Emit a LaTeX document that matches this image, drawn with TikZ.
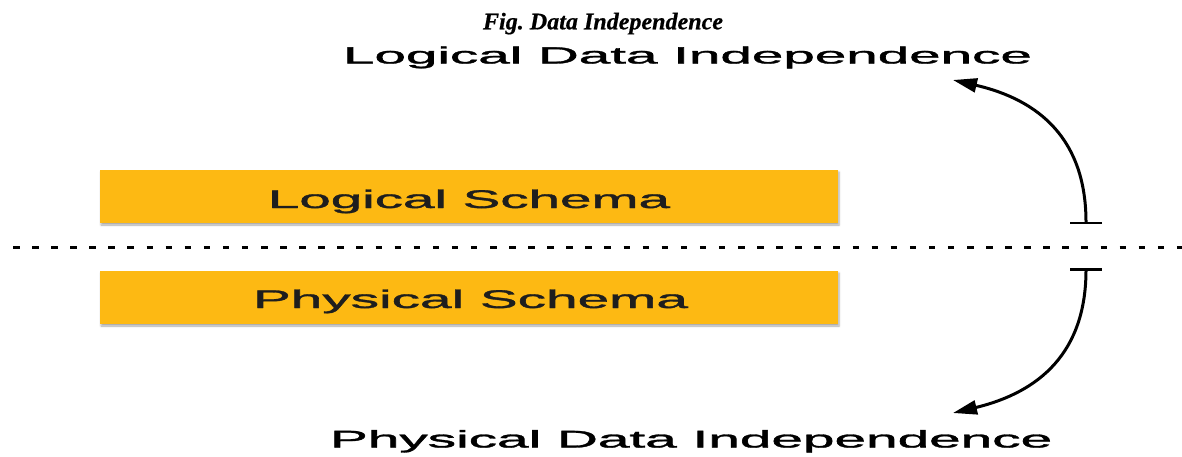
\documentclass[tikz,border=0pt]{standalone}
\usepackage{fontspec}
\setmainfont{Liberation Serif}
\setsansfont{Liberation Sans}
\frenchspacing
\usetikzlibrary{arrows.meta,shadows.blur}
\definecolor{schemafill}{RGB}{253,185,19}
\definecolor{schematext}{RGB}{30,30,30}
% stretched sans text: width, cap height, text
\newcommand{\stretchtext}[3]{\resizebox{#1}{#2}{\sffamily\addfontfeature{FakeBold=1.2} #3}}
\tikzset{
  schemabox/.style={fill=schemafill, draw=none, minimum width=738pt, minimum height=53pt,
    inner sep=0pt, blur shadow={shadow xshift=1pt, shadow yshift=-2pt, shadow blur radius=2pt, shadow opacity=35}},
  plain/.style={inner sep=0pt, outer sep=0pt},
  divider/.style={line width=3pt, dash pattern=on 6.5pt off 12.58pt},
  indep/.style={line width=3pt, {Bar[width=32pt,line width=2.5pt]}-{Triangle[length=24pt,width=14pt]}}
}
\begin{document}
\begin{tikzpicture}[x=1pt,y=-1pt]
\useasboundingbox (0,0) rectangle (1182,456);

% caption
\node[plain, anchor=base] (caption) at (603,29.3)
  {\resizebox{240pt}{16.5pt}{\bfseries\itshape\addfontfeature{FakeBold=0.6}Fig. Data Independence}};

% schema boxes
\node[schemabox] (logical) at (469,196.5) {};
\node[schemabox] (physical) at (469,297.5) {};
\node[plain, anchor=base, text=schematext] (logicaltext) at (469,208)
  {\stretchtext{402pt}{18.5pt}{Logical Schema}};
\node[plain, anchor=base, text=schematext] (physicaltext) at (470.5,308)
  {\stretchtext{435pt}{18.5pt}{Physical Schema}};

% level divider
\coordinate (divleft) at (13,247);
\coordinate (divright) at (1182,247);
\draw[divider] (divleft) -- (divright);

% independence labels
\node[plain, anchor=base west] (logicalindep) at (343,63.5)
  {\stretchtext{689pt}{17pt}{Logical Data Independence}};
\node[plain, anchor=base west] (physicalindep) at (330,447.5)
  {\stretchtext{722pt}{17.5pt}{Physical Data Independence}};

% curved arrows
\coordinate (upbar) at (1086,224);
\coordinate (uptip) at (953,80);
\coordinate (downbar) at (1086,268);
\coordinate (downtip) at (953,413);
\draw[indep] (upbar) .. controls (1086,140) and (1040,100) .. (uptip);
\draw[indep] (downbar) .. controls (1086,352) and (1040,392) .. (downtip);
\end{tikzpicture}
\end{document}
